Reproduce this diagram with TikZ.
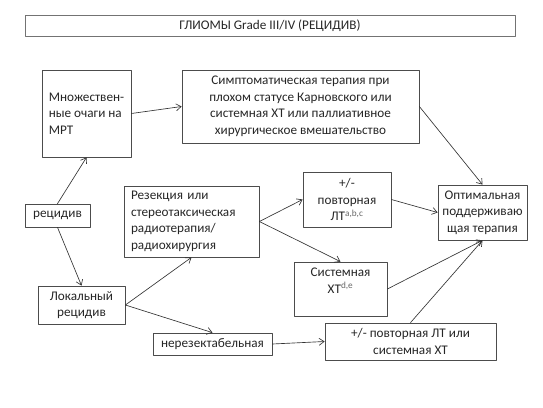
\documentclass[tikz,border=0pt]{standalone}
\usepackage{fontspec}
\setmainfont{Carlito}
\usetikzlibrary{arrows.meta}
\begin{document}
\begin{tikzpicture}[line cap=round, line join=round, x=1pt, y=-1pt,
	>={Straight Barb[length=5pt,width=7pt]},
	font=\fontsize{13.2}{16.5}\selectfont,
	hop/.style={draw=black!70, line width=0.75pt, inner sep=0pt, align=center, text=black!85},
	muiten/.style={->, draw=black!80, line width=0.65pt}]
	
	% Размеры картинки
	\useasboundingbox (0,0) rectangle (543,407);
	
	% Заголовок
	\node[hop, draw=black!55, minimum width=490, minimum height=21] (tieude) at (270,25.5) {ГЛИОМЫ Grade III/IV (РЕЦИДИВ)};
	
	% Левый столбец
	\node[hop, align=left, minimum width=89, minimum height=87] (mult) at (86.5,113.5) {Множествен-\\ные очаги на\\МРТ};
	\node[hop, minimum width=65, minimum height=23] (recid) at (57.5,215.5) {рецидив};
	\node[hop, minimum width=87, minimum height=38] (local) at (81.5,305) {Локальный\\рецидив};
	
	% Средний столбец
	\node[hop, minimum width=237, minimum height=73] (symp) at (300.5,106.5) {Симптоматическая терапия при\\плохом статусе Карновского или\\системная ХТ или паллиативное\\хирургическое вмешательство};
	\node[hop, align=left, text width=121, inner xsep=7, minimum height=71] (resect) at (191.5,221.5) {Резекция или\\стереотаксическая\\радиотерапия/\\радиохирургия};
	\node[hop, minimum width=119, minimum height=22] (unres) at (212.5,344) {нерезектабельная};
	\node[hop, minimum width=88, minimum height=55] (relt) at (347,199.5) {+/-\\повторная\\ЛТ\textsuperscript{\color{black!60}a,b,c}};
	\node[hop, minimum width=93, minimum height=54] (chemo) at (340.5,289) {Системная\\ХТ\textsuperscript{\color{black!60}d,e}\\\mbox{}};
	\node[hop, minimum width=171, minimum height=37] (relt2) at (410.5,341.5) {+/- повторная ЛТ или\\системная ХТ};
	
	% Правый столбец
	\node[hop, minimum width=89, minimum height=55] (optim) at (482.5,212.5) {Оптимальная\\поддерживаю\\щая терапия};
	
	% Стрелки
	\draw[muiten] (recid.north) -- (mult.south);
	\draw[muiten] (recid.south) -- (local.north);
	\draw[muiten] (mult.east) -- (symp.west);
	\draw[muiten] (symp.east) -- (optim.north);
	\draw[muiten] (local.east) -- (resect.south);
	\draw[muiten] (local.east) -- (unres.north);
	\draw[muiten] (resect.east) -- (relt.west);
	\draw[muiten] (resect.east) -- (chemo.north);
	\draw[muiten] (relt.east) -- (optim.west);
	\draw[muiten] (chemo.east) -- (optim.south);
	\draw[muiten] (relt2.north) -- (optim.south);
	\draw[muiten] (unres.east) -- (relt2.west);
	
\end{tikzpicture}
\end{document}
